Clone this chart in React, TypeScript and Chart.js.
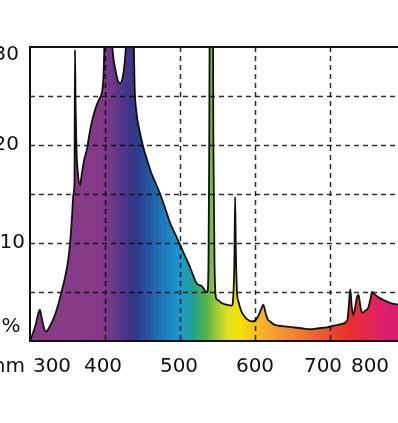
import React, { useEffect, useRef } from "react";
import { Chart, registerables } from "chart.js";

Chart.register(...registerables);

// Wavelength (nm) and relative intensity (%)
const wavelengths = [
  300, 304, 308, 311, 313, 315, 318, 321, 325, 329, 333, 338, 342, 347, 351, 354, 356, 358, 359.3, 360,
  360.8, 362, 364, 366.7, 369, 372, 376, 379, 382, 386, 389, 393, 396, 398, 399.5, 402, 405, 407, 409, 411,
  414, 417, 420, 423, 426, 428.5, 431, 434, 437, 438.5, 439.5, 442, 446, 451, 456, 461, 467, 473, 480, 487,
  493, 499, 506, 513, 518, 522, 526, 529, 532, 535, 536.5, 538, 539, 540, 543.5, 544.5, 546, 548, 550, 555,
  562, 569, 571, 572.5, 573.5, 574.5, 576, 578, 582, 586, 590, 595, 600, 604, 608, 611, 614, 617, 620, 625,
  629, 640, 651, 662, 673, 685, 696, 708, 718, 723, 725, 727, 729, 731, 733, 736, 738, 740, 742, 744,
  747, 751, 754, 756, 759, 764, 771, 780, 791,
];
const intensity = [
  0, 0.8, 1.8, 2.8, 3.2, 2.6, 1.5, 0.95, 1.3, 1.9, 2.6, 3.8, 5.0, 6.6, 8.3, 10.5, 12.7, 15.0, 16.2, 29.7,
  24, 19.5, 17, 15.9, 17, 18.4, 19.6, 21, 22.2, 23.4, 24.1, 24.8, 25.4, 27, 31, 38, 40, 36, 31, 29,
  27.6, 26.6, 26.3, 26.7, 28.2, 31, 38, 40, 36, 30, 26, 23.3, 21.5, 19.8, 18.5, 17.3, 16.2, 15.1, 13.6, 12.0,
  11.0, 10.0, 8.8, 7.6, 6.6, 5.9, 5.7, 5.6, 5.3, 5.0, 5.0, 8, 20, 40, 40, 20, 8, 4.4, 4.2, 3.9,
  3.7, 3.6, 4.5, 8, 14.7, 9, 5, 4.0, 3.0, 2.5, 2.2, 2.0, 2.1, 2.5, 3.2, 3.7, 2.9, 2.2, 2.0, 1.7,
  1.6, 1.5, 1.4, 1.3, 1.2, 1.3, 1.4, 1.6, 1.8, 2.1, 3.5, 5.3, 3.5, 2.65, 3.2, 4.5, 4.7, 3.8, 3.0, 2.9,
  3.1, 3.4, 4.3, 5.0, 4.8, 4.5, 4.2, 3.9, 3.7,
];

const xTickValues = [300, 400, 500, 600, 700, 800];
const xTickLabels = ["300", "400", "500", "600", "700", "800"];
const yTickValues = [0, 10, 20, 30];
const yTickLabels = ["%", "10", "20", "30"];
const xGridValues = [400, 500, 600, 700];
const yGridValues = [5, 10, 15, 20, 25];
const xUnit = "nm";

// spectrum colours (nm -> colour)
const spectrumNm = [300, 393, 407, 427, 440, 447, 477, 500, 517, 536, 545, 563, 581, 599, 625, 661, 696, 723, 745, 768, 791];
const spectrumColors = [
  "#8a3a86", "#843a88", "#743889", "#4a3586", "#2f3a86", "#2a4291", "#1e78b8", "#1a9ad0", "#20a092",
  "#5ab042", "#8fc23e", "#dfe021", "#f8e000", "#f8c022", "#f5a030", "#f07a30", "#ec5030", "#e8302a",
  "#e52848", "#e02068", "#d81e6e",
];

const X_MIN = 300;
const X_MAX = 790.67;

const labelFont = '20px "DejaVu Sans", sans-serif';

const framePlugin = {
  id: "frameAndLabels",
  afterDatasetsDraw(chart: any) {
    const { ctx, chartArea, scales } = chart;
    const x = scales.x;
    const y = scales.y;
    ctx.save();
    // grid lines over the fill
    ctx.strokeStyle = "rgba(0,0,0,0.82)";
    ctx.lineWidth = 1.5;
    ctx.setLineDash([5, 4]);
    yGridValues.forEach((v) => {
      const py = Math.round(y.getPixelForValue(v)) + 0.5;
      ctx.beginPath();
      ctx.moveTo(chartArea.left, py);
      ctx.lineTo(chartArea.right, py);
      ctx.stroke();
    });
    xGridValues.forEach((v) => {
      const px = Math.round(x.getPixelForValue(v)) + 0.5;
      ctx.beginPath();
      ctx.moveTo(px, chartArea.top);
      ctx.lineTo(px, chartArea.bottom);
      ctx.stroke();
    });
    ctx.setLineDash([]);
    // frame: top, left, bottom
    ctx.strokeStyle = "#111";
    ctx.lineWidth = 2;
    ctx.beginPath();
    ctx.moveTo(chartArea.right, chartArea.top);
    ctx.lineTo(chartArea.left, chartArea.top);
    ctx.lineTo(chartArea.left, chartArea.bottom);
    ctx.lineTo(chartArea.right, chartArea.bottom);
    ctx.stroke();
    ctx.restore();
  },
  afterDraw(chart: any) {
    const { ctx, scales } = chart;
    const x = scales.x;
    const y = scales.y;
    ctx.save();
    ctx.font = labelFont;
    ctx.fillStyle = "#111";
    ctx.textBaseline = "middle";
    // x labels (outer ones pulled inside the frame, as in the original)
    const xShift = [22, -2, -1, 0, -7, -28];
    const xLabelY = y.getPixelForValue(0) + 26;
    ctx.textAlign = "center";
    xTickValues.forEach((v, i) => {
      const px = x.getPixelForValue(Math.min(v, X_MAX)) + xShift[i];
      ctx.fillText(xTickLabels[i], px, xLabelY);
    });
    ctx.textAlign = "right";
    ctx.fillText(xUnit, x.getPixelForValue(X_MIN) - 5, xLabelY);
    // y labels
    const yShift = [-14, 0, 0, 8];
    const yRight = [19, 25, 19, 19];
    yTickValues.forEach((v, i) => {
      const py = y.getPixelForValue(v) + yShift[i];
      ctx.textAlign = i === 0 ? "center" : "right";
      ctx.fillText(yTickLabels[i], i === 0 ? 11 : yRight[i], py);
    });
    ctx.restore();
  },
};

export default function App() {
  const canvasRef = useRef<HTMLCanvasElement | null>(null);

  useEffect(() => {
    const canvas = canvasRef.current;
    if (!canvas) return;
    const points = wavelengths.map((w, i) => ({ x: w, y: intensity[i] }));
    const chart = new Chart(canvas, {
      type: "line",
      data: {
        datasets: [
          {
            data: points,
            borderColor: "#111",
            borderWidth: 1.8,
            pointRadius: 0,
            fill: "origin",
            cubicInterpolationMode: "monotone",
            backgroundColor: (c: any) => {
              const ch = c.chart;
              const area = ch.chartArea;
              if (!area) return "#8a3a86";
              const xs = ch.scales.x;
              const x0 = xs.getPixelForValue(X_MIN);
              const x1 = xs.getPixelForValue(X_MAX);
              const g = ch.ctx.createLinearGradient(x0, 0, x1, 0);
              spectrumNm.forEach((nm, i) => {
                const t = Math.max(0, Math.min(1, (nm - X_MIN) / (X_MAX - X_MIN)));
                g.addColorStop(t, spectrumColors[i]);
              });
              return g;
            },
          } as any,
        ],
      },
      options: {
        animation: false,
        responsive: false,
        devicePixelRatio: 1,
        layout: { padding: { left: 30, top: 47, right: 0, bottom: 82 } },
        plugins: { legend: { display: false }, tooltip: { enabled: false } },
        scales: {
          x: { type: "linear", min: X_MIN, max: X_MAX, display: false },
          y: { type: "linear", min: 0, max: 30, display: false },
        },
      } as any,
      plugins: [framePlugin],
    });
    return () => chart.destroy();
  }, []);

  return (
    <div style={{ position: "fixed", left: 0, top: 0, width: 398, height: 423, overflow: "hidden", background: "#fff" }}>
      <canvas ref={canvasRef} width={398} height={423} style={{ display: "block" }} />
    </div>
  );
}
